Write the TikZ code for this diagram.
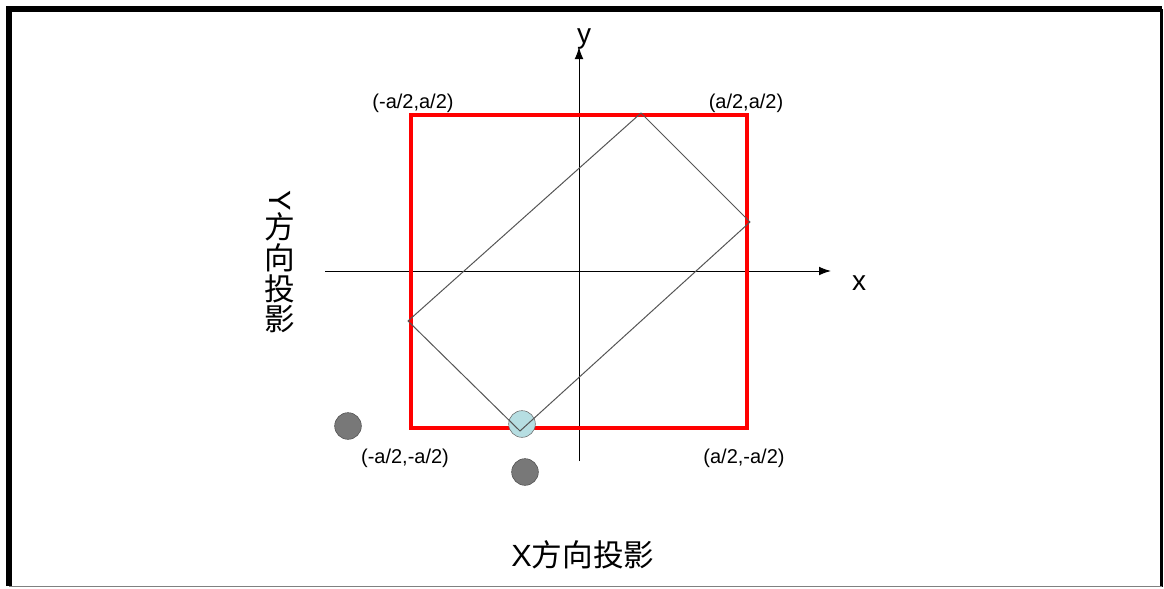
\documentclass[tikz,border=0pt]{standalone}
\usepackage{fontspec}
\setmainfont{Liberation Sans}
\newfontfamily\cjkfont{Noto Sans CJK SC}
\usetikzlibrary{arrows.meta}
\definecolor{quadrado}{RGB}{255,0,0}
\definecolor{pontocinza}{RGB}{120,120,120}
\definecolor{pontoazul}{RGB}{182,222,226}
\definecolor{girado}{RGB}{85,85,85}
\tikzset{
  canto/.style={font=\fontsize{15}{18}\selectfont, inner sep=0pt},
  eixo/.style={line width=0.75pt, -{Latex[length=9pt,width=6.5pt]}},
  rotulo/.style={font=\fontsize{21}{24}\selectfont, inner sep=0pt},
  projecao/.style={font=\fontsize{23}{23}\selectfont\cjkfont, inner sep=0pt, align=center},
  ponto/.style={circle, draw=black!70, fill=pontocinza, minimum size=20pt, inner sep=0pt},
  pontoA/.style={circle, draw=black!60, fill=pontoazul, minimum size=20pt, inner sep=0pt}
}

\begin{document}
\begin{tikzpicture}[x=0.75pt, y=-0.75pt]
\useasboundingbox (0,0) rectangle (1164,589);

% moldura
\draw[line width=4.5pt] (9,586) -- (9,9) -- (1161.5,9);
\draw[line width=2.25pt] (1161.5,9) -- (1161.5,587);
\draw[line width=0.75pt, black!50] (9,586.5) -- (1161.5,586.5);

% eixos
\coordinate (xini) at (325,271);
\coordinate (xfim) at (831,271);
\coordinate (yini) at (579,461);
\coordinate (yfim) at (579,47);
\draw[eixo] (xini) -- (xfim);
\draw[eixo] (yini) -- (yfim);
\node[rotulo] (xlab) at (859,283) {x};
\node[rotulo] (ylab) at (584,39) {y};

% quadrado
\coordinate (A) at (411,428);
\coordinate (B) at (747,428);
\coordinate (C) at (747,115);
\coordinate (D) at (411,115);
\draw[quadrado, line width=3pt] (A) -- (B) -- (C) -- (D) -- cycle;

% pontos
\node[pontoA] (pazul) at (522,424) {};
\node[ponto] (p1) at (348,426) {};
\node[ponto] (p2) at (525,472) {};

% retangulo girado
\coordinate (R1) at (641,113);
\coordinate (R2) at (750,222);
\coordinate (R3) at (520,431);
\coordinate (R4) at (408,321);
\draw[girado, line width=0.75pt] (R1) -- (R2) -- (R3) -- (R4) -- cycle;

% rotulos dos cantos
\node[canto] (ce) at (413,103) {(-a/2,a/2)};
\node[canto] (cd) at (746,103) {(a/2,a/2)};
\node[canto] (be) at (405,458) {(-a/2,-a/2)};
\node[canto] (bd) at (744,458) {(a/2,-a/2)};

% projecoes
\node[projecao] (projx) at (583,555) {\fontspec{Liberation Sans}X\cjkfont 方向投影};
\node[projecao] (projy) at (280,262) {\rotatebox{-90}{\fontspec{Liberation Sans}Y}\\方\\向\\投\\影};
\end{tikzpicture}
\end{document}
